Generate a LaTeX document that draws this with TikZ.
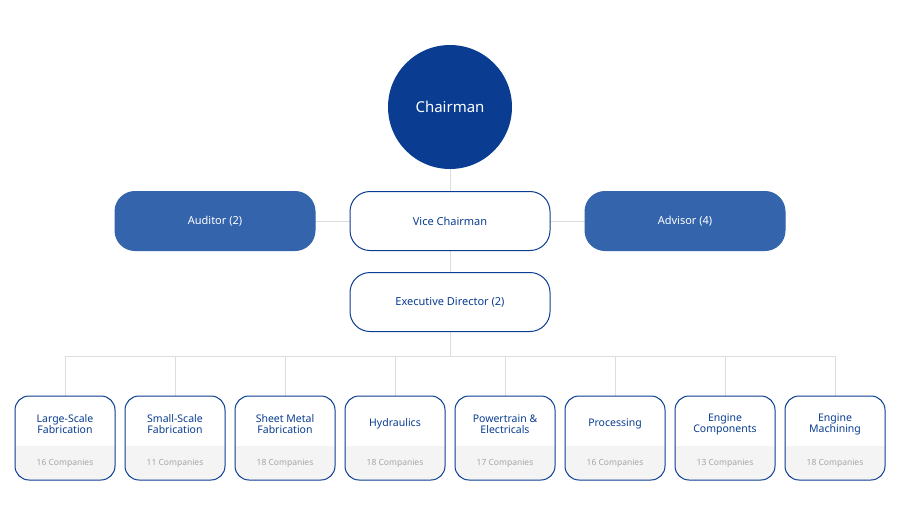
\documentclass[tikz,border=0pt]{standalone}
\usepackage{fontspec}
\setmainfont{Noto Sans}
\definecolor{navy}{HTML}{0A3D91}
\definecolor{mid}{HTML}{3464AC}
\definecolor{ln}{HTML}{DDDDDD}
\definecolor{gr}{HTML}{F4F4F4}
\definecolor{gt}{HTML}{A5A5A5}
\begin{document}
\begin{tikzpicture}[x=1pt,y=-1pt,
  pill/.style={draw=navy,line width=1pt,rounded corners=20pt,minimum width=200pt,minimum height=59pt,font=\bfseries\fontsize{11}{13}\selectfont,text=navy,fill=white},
  fpill/.style={pill,fill=mid,draw=mid,text=white},
  conn/.style={draw=ln,line width=0.8pt}]
\useasboundingbox (0,0) rectangle (900,515);
\draw[conn] (450,107) -- (450,356);
\draw[conn] (315,221) -- (585,221);
\draw[conn] (65,356) -- (835,356);
\node[circle,fill=navy,minimum size=124pt,text=white,font=\bfseries\fontsize{15}{18}\selectfont] (ch) at (450,107) {Chairman};
\node[pill] (vc) at (450,221) {Vice Chairman};
\node[fpill] (au) at (215,221) {Auditor (2)};
\node[fpill] (ad) at (685,221) {Advisor (4)};
\node[pill] (ed) at (450,302) {Executive Director (2)};
\foreach \i/\t/\n in {0/{Large-Scale\\Fabrication}/16,1/{Small-Scale\\Fabrication}/11,2/{Sheet Metal\\Fabrication}/18,3/{Hydraulics}/18,4/{Powertrain \&\\Electricals}/17,5/{Processing}/16,6/{Engine\\Components}/13,7/{Engine\\Machining}/18}{
  \pgfmathsetmacro\cx{65+110*\i}
  \draw[conn] (\cx,356) -- (\cx,396);
  \begin{scope}
  \clip[rounded corners=14pt] (\cx-50,396) rectangle (\cx+50,480);
  \fill[white] (\cx-50,396) rectangle (\cx+50,446);
  \fill[gr] (\cx-50,446) rectangle (\cx+50,480);
  \end{scope}
  \draw[navy,line width=1pt,rounded corners=14pt] (\cx-50,396) rectangle (\cx+50,480);
  \node[align=center,text=navy,font=\fontsize{10.5}{11}\selectfont,inner sep=0pt] (b\i) at (\cx,424) {\t};
  \node[text=gt,font=\fontsize{8.5}{10}\selectfont] (c\i) at (\cx,463) {\n\ Companies};
}
\end{tikzpicture}
\end{document}
